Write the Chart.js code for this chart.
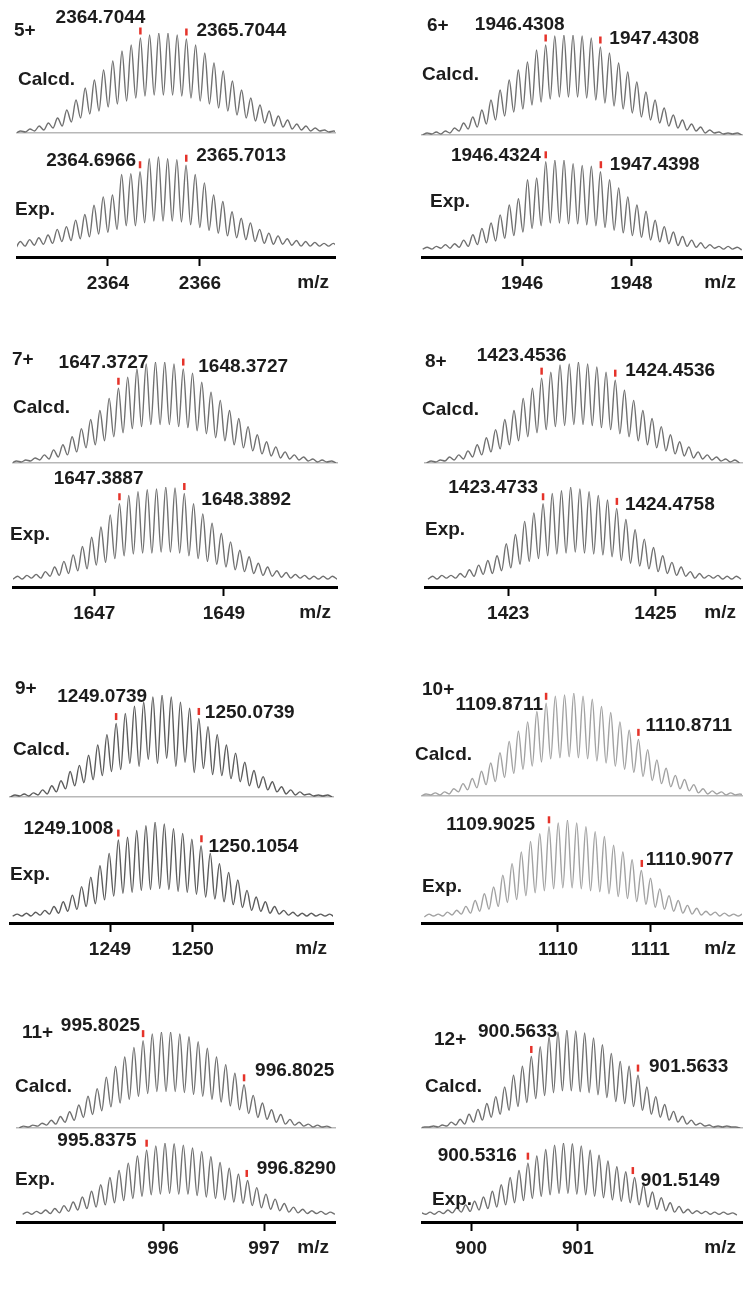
<!DOCTYPE html>
<html>
<head>
<meta charset="utf-8">
<script src="https://cdn.jsdelivr.net/npm/chart.js@4.4.1/dist/chart.umd.min.js"></script>
<style>
  body { margin: 0; background: #fff; width: 743px; height: 1289px; position: relative; overflow: hidden; }
  canvas { position: absolute; }
</style>
</head>
<body>
<script>
// ---------------- data (peak tops and valleys, 0-100 of the tallest peak) ----------------
const chargeLabels = ['5+', '6+', '7+', '8+', '9+', '10+', '11+', '12+'];

const ticks5 = [2364, 2366];
const calc5 = [2,4,7,10,15,23,33,45,53,63,72,82,88,95,98,100,100,98,94,88,80,70,62,52,43,35,28,22,17,13,9,7,5,3,2];
const calc5V = [0,1,2,3,5,7,11,15,19,22,26,29,32,35,37,38,38,38,37,35,32,29,25,22,18,15,12,10,7,6,4,3,2,2,1,0];
const exp5 = [7,9,11,14,20,23,30,36,46,55,57,79,80,82,96,98,96,95,89,79,70,57,50,39,32,27,20,16,13,10,8,7,6,5,5];
const exp5V = [0,2,3,4,5,7,8,10,12,15,17,20,24,24,27,29,29,29,28,25,22,19,16,13,11,9,7,5,4,4,3,2,2,2,2,1];
const calc5Labels = ['2364.7044', '2365.7044'];
const exp5Labels = ['2364.6966', '2365.7013'];

const ticks6 = [1946, 1948];
const calc6 = [2,3,4,7,12,18,25,35,45,55,65,73,85,90,99,100,100,99,97,88,82,72,63,53,43,35,27,20,15,11,8,5,3,2,2];
const calc6V = [0,1,1,2,4,6,8,11,15,19,23,26,30,33,36,38,38,38,37,35,32,29,26,22,18,15,12,9,7,5,4,2,2,1,1,0];
const exp6 = [3,4,6,7,11,17,24,30,39,50,57,78,80,98,100,100,96,94,93,87,78,69,59,50,43,33,26,20,15,11,8,6,4,4,3];
const exp6V = [1,1,2,2,3,4,6,8,10,13,16,20,24,27,30,30,29,29,28,27,25,22,19,16,14,11,9,7,5,4,3,2,2,1,1,0];
const calc6Labels = ['1946.4308', '1947.4308'];
const exp6Labels = ['1946.4324', '1947.4398'];

const ticks7 = [1647, 1649];
const calc7 = [2,3,5,8,13,18,26,34,43,52,64,74,85,93,98,100,100,98,93,89,80,70,62,52,44,36,28,21,16,11,8,6,4,3,2];
const calc7V = [0,1,2,3,4,6,8,11,15,18,22,26,30,34,36,38,38,38,36,35,32,29,25,22,18,15,12,9,7,5,4,3,2,1,1,0];
const exp7 = [4,5,6,9,14,20,27,36,46,57,70,82,91,95,97,98,100,99,93,82,71,61,50,41,32,25,18,14,10,8,6,5,4,4,4];
const exp7V = [1,1,2,2,4,5,7,10,12,16,19,23,26,28,29,29,30,30,29,26,23,20,17,14,11,9,7,5,4,3,2,2,1,1,1,1];
const calc7Labels = ['1647.3727', '1648.3727'];
const exp7Labels = ['1647.3887', '1648.3892'];

const ticks8 = [1423, 1425];
const calc8 = [2,3,6,8,12,18,25,33,43,52,64,74,84,90,97,98,100,98,95,90,82,72,62,52,44,36,28,21,16,11,8,6,4,3];
const calc8V = [0,1,2,3,4,6,8,11,14,18,22,26,30,33,36,37,38,38,37,35,33,29,26,22,18,15,12,9,7,5,4,3,2,1,0];
const exp8 = [4,5,5,7,11,16,21,26,39,49,63,72,82,93,96,100,98,95,91,86,77,65,54,44,35,26,19,14,9,7,5,5,4,4];
const exp8V = [1,1,2,2,3,4,6,7,10,13,17,20,23,26,28,29,30,29,28,27,25,21,18,15,12,9,7,5,4,2,2,2,1,1,1];
const calc8Labels = ['1423.4536', '1424.4536'];
const exp8Labels = ['1423.4733', '1424.4758'];

const ticks9 = [1249, 1250];
const calc9 = [2,3,4,7,11,16,25,31,41,51,61,72,82,89,93,98,100,98,93,87,77,69,61,51,43,34,26,20,15,10,7,5,3,2,2];
const calc9V = [0,1,1,2,3,5,8,11,14,17,21,25,27,33,30,37,33,38,30,34,24,28,22,21,18,15,11,9,7,5,3,2,2,1,1,0];
const exp9 = [3,4,5,7,11,16,23,32,42,54,67,81,84,91,96,100,98,93,88,82,75,67,56,47,39,28,21,16,11,7,5,4,4,3,3];
const exp9V = [1,1,1,2,3,4,6,8,11,14,18,22,25,26,28,29,30,29,27,26,24,21,19,16,13,10,7,6,4,3,2,1,1,1,1,0];
const calc9Labels = ['1249.0739', '1250.0739'];
const exp9Labels = ['1249.1008', '1250.1054'];

const ticks10 = [1110, 1111];
const calc10 = [2,3,4,7,12,17,24,32,42,53,63,72,82,90,97,98,100,97,94,87,81,72,64,55,45,35,27,20,16,11,7,5,4,3,2];
const calc10V = [0,1,1,2,4,6,8,11,14,18,22,26,29,33,36,37,38,37,36,34,32,29,26,23,19,15,12,9,7,5,3,2,2,1,1,0];
const exp10 = [3,3,5,7,11,17,24,31,43,55,67,78,86,93,97,100,97,93,88,83,74,67,59,48,40,29,22,17,12,9,6,5,4,3,3];
const exp10V = [0,1,1,2,3,4,6,8,11,15,18,22,25,27,29,30,30,29,27,26,24,21,19,16,13,10,8,6,4,3,2,2,1,1,1,0];
const calc10Labels = ['1109.8711', '1110.8711'];
const exp10Labels = ['1109.9025', '1110.9077'];

const ticks11 = [996, 997];
const calc11 = [2,3,5,8,12,17,24,33,41,53,64,74,84,91,98,100,100,98,95,90,83,74,66,57,45,34,26,19,14,9,6,4,3,2];
const calc11V = [0,1,2,3,4,6,8,11,14,18,22,26,30,33,36,38,38,38,37,35,33,30,27,23,19,15,11,9,6,4,3,2,1,1,0];
const exp11 = [4,5,7,9,13,18,25,33,42,52,62,72,82,90,96,100,99,97,93,88,81,73,65,57,48,38,29,22,16,11,8,6,5,4];
const exp11V = [1,1,2,2,3,5,7,9,11,14,17,20,23,26,28,29,30,29,29,27,25,23,21,18,16,13,10,8,6,4,3,2,2,1,1];
const calc11Labels = ['995.8025', '996.8025'];
const exp11Labels = ['995.8375', '996.8290'];

const ticks12 = [900, 901];
const calc12 = [1,2,3,6,9,14,19,25,32,42,54,63,73,83,93,98,100,99,97,92,85,76,68,63,54,42,32,24,17,12,8,5,3,2,2,1];
const calc12V = [0,1,1,2,3,4,6,8,11,14,18,22,26,30,33,36,38,38,37,36,34,31,27,25,22,18,14,11,8,6,4,3,2,1,1,1,0];
const exp12 = [3,4,5,7,10,14,19,25,33,42,52,62,72,82,91,97,100,99,96,90,83,75,67,60,52,42,32,24,17,12,8,6,5,4,4,3];
const exp12V = [1,1,1,2,3,4,5,7,9,11,14,17,20,23,26,28,30,30,29,28,26,24,21,19,17,14,11,8,6,4,3,2,2,1,1,1,0];
const calc12Labels = ['900.5633', '901.5633'];
const exp12Labels = ['900.5316', '901.5149'];

// ---------------- layout ----------------
const FONT = 'bold 19px "Liberation Sans", Arial, sans-serif';
const INK = '#1c1c1c';
const RED = '#e5332a';

const panels = [
  { col: 0, colW: 372, axisL: 17, axisR: 335, xMin: 2362.022, xMax: 2368.935, ticks: ticks5,
    topC: 33, baseC: 133, topE: 155, zeroE: 248, axisY: 257, color: '#707070',
    calc: { peaks: calc5, valleys: calc5V, labels: calc5Labels, k0: 13, place: [['right', 5, -13], ['left', 10, -1]] },
    exp: { peaks: exp5, valleys: exp5V, labels: exp5Labels, k0: 13, place: [['right', -4, -4], ['left', 10, -2]] },
    txt: [[14, 31], [18, 80], [15, 210]] },
  { col: 372, colW: 371, axisL: 422, axisR: 742, xMin: 1944.17, xMax: 1950.02, ticks: ticks6,
    topC: 35, baseC: 135, topE: 160, zeroE: 250, axisY: 257, color: '#707070',
    calc: { peaks: calc6, valleys: calc6V, labels: calc6Labels, k0: 13, place: [['right', 19, -13], ['left', 9, -1]] },
    exp: { peaks: exp6, valleys: exp6V, labels: exp6Labels, k0: 13, place: [['right', -5, 1], ['left', 9, 0]] },
    txt: [[427, 26], [422, 75], [430, 202]] },
  { col: 0, colW: 372, axisL: 13, axisR: 337, xMin: 1645.746, xMax: 1650.745, ticks: ticks7,
    topC: 362, baseC: 463, topE: 487, zeroE: 580, axisY: 587, color: '#707070',
    calc: { peaks: calc7, valleys: calc7V, labels: calc7Labels, k0: 11, place: [['right', 30, -18], ['left', 15, 5]] },
    exp: { peaks: exp7, valleys: exp7V, labels: exp7Labels, k0: 11, place: [['right', 24, -18], ['left', 17, 13]] },
    txt: [[12, 360], [13, 408], [10, 535]] },
  { col: 372, colW: 371, axisL: 425, axisR: 742, xMin: 1421.87, xMax: 1426.175, ticks: ticks8,
    topC: 362, baseC: 463, topE: 487, zeroE: 580, axisY: 587, color: '#707070',
    calc: { peaks: calc8, valleys: calc8V, labels: calc8Labels, k0: 12, place: [['right', 25, -15], ['left', 10, -2]] },
    exp: { peaks: exp8, valleys: exp8V, labels: exp8Labels, k0: 12, place: [['right', -5, -9], ['left', 8, 3]] },
    txt: [[425, 362], [422, 410], [425, 530]] },
  { col: 0, colW: 372, axisL: 10, axisR: 333, xMin: 1247.791, xMax: 1251.696, ticks: ticks9,
    topC: 695, baseC: 797, topE: 822, zeroE: 917, axisY: 923, color: '#5c5c5c',
    calc: { peaks: calc9, valleys: calc9V, labels: calc9Labels, k0: 11, place: [['right', 31, -20], ['left', 6, 1]] },
    exp: { peaks: exp9, valleys: exp9V, labels: exp9Labels, k0: 11, place: [['right', -5, -4], ['left', 7, 8]] },
    txt: [[15, 689], [13, 750], [10, 875]] },
  { col: 372, colW: 371, axisL: 422, axisR: 742, xMin: 1108.527, xMax: 1111.993, ticks: ticks10,
    topC: 693, baseC: 796, topE: 820, zeroE: 917, axisY: 923, color: '#a2a2a2',
    calc: { peaks: calc10, valleys: calc10V, labels: calc10Labels, k0: 13, place: [['right', -3, 8], ['left', 7, -7]] },
    exp: { peaks: exp10, valleys: exp10V, labels: exp10Labels, k0: 13, place: [['right', -14, 5], ['left', 4, -4]] },
    txt: [[422, 690], [415, 755], [422, 887]] },
  { col: 0, colW: 372, axisL: 17, axisR: 335, xMin: 994.554, xMax: 997.703, ticks: ticks11,
    topC: 1032, baseC: 1128, topE: 1143, zeroE: 1215, axisY: 1222, color: '#707070',
    calc: { peaks: calc11, valleys: calc11V, labels: calc11Labels, k0: 13, place: [['right', -3, -8], ['left', 11, -7]] },
    exp: { peaks: exp11, valleys: exp11V, labels: exp11Labels, k0: 13, place: [['right', -10, -2], ['left', 10, -5]] },
    txt: [[22, 1033], [15, 1087], [15, 1180]] },
  { col: 372, colW: 371, axisL: 422, axisR: 742, xMin: 899.539, xMax: 902.538, ticks: ticks12,
    topC: 1030, baseC: 1128, topE: 1143, zeroE: 1215, axisY: 1222, color: '#707070',
    calc: { peaks: calc12, valleys: calc12V, labels: calc12Labels, k0: 12, place: [['right', 26, -18], ['left', 11, -1]] },
    exp: { peaks: exp12, valleys: exp12V, labels: exp12Labels, k0: 12, place: [['right', -11, 0], ['left', 8, 10]] },
    txt: [[434, 1040], [425, 1087], [432, 1200]] }
];

// peaks sit one isotope step (1/z) apart, valleys between them
function buildTrace(t, z) {
  const anchor = parseFloat(t.labels[0]);
  const step = 1 / z;
  const pts = [{ x: anchor + (-t.k0 - 0.5) * step, y: t.valleys[0] }];
  for (let i = 0; i < t.peaks.length; i++) {
    const x = anchor + (i - t.k0) * step;
    pts.push({ x: x, y: t.peaks[i] });
    pts.push({ x: x + step / 2, y: t.valleys[i + 1] });
  }
  return pts;
}

function annot(p, t, z, isExp, canvasTop, idx) {
  return {
    id: 'annot',
    afterDraw(chart) {
      const ctx = chart.ctx, xs = chart.scales.x, ys = chart.scales.y;
      const anchor = parseFloat(t.labels[0]);
      ctx.save();
      ctx.font = FONT;
      ctx.textBaseline = 'middle';
      t.labels.forEach((lab, i) => {
        const m = parseFloat(lab);
        const k = t.k0 + Math.round((m - anchor) * z);
        const px = xs.getPixelForValue(m);
        const py = ys.getPixelForValue(t.peaks[k]) - 7;
        ctx.fillStyle = RED;
        ctx.fillRect(px - 1.25, py - 3.5, 2.5, 7);
        const pl = t.place[i];
        ctx.fillStyle = INK;
        ctx.textAlign = pl[0];
        ctx.fillText(lab, px + pl[1], py + pl[2]);
      });
      ctx.fillStyle = INK;
      ctx.textAlign = 'left';
      if (!isExp) {
        ctx.fillText(chargeLabels[idx], p.txt[0][0] - p.col, p.txt[0][1] - canvasTop);
        ctx.fillText('Calcd.', p.txt[1][0] - p.col, p.txt[1][1] - canvasTop);
      } else {
        ctx.fillText('Exp.', p.txt[2][0] - p.col, p.txt[2][1] - canvasTop);
        ctx.textAlign = 'right';
        ctx.fillText('m/z', chart.chartArea.right - 6, chart.chartArea.bottom + 26);
      }
      ctx.restore();
    }
  };
}

function drawTrace(p, idx, isExp) {
  const t = isExp ? p.exp : p.calc;
  const z = parseInt(chargeLabels[idx]);
  const top = isExp ? p.baseC - 8 : p.topC - 45;
  const bottom = isExp ? p.axisY + 45 : p.baseC + 4;
  const w = p.colW, h = bottom - top;
  const cv = document.createElement('canvas');
  cv.width = w; cv.height = h;
  cv.style.left = p.col + 'px';
  cv.style.top = top + 'px';
  cv.style.width = w + 'px';
  cv.style.height = h + 'px';
  document.body.appendChild(cv);

  const yMin = isExp ? -(p.axisY - p.zeroE) * 100 / (p.zeroE - p.topE) : 0;
  const xAxis = isExp ? {
    type: 'linear', min: p.xMin, max: p.xMax,
    afterBuildTicks: s => { s.ticks = p.ticks.map(v => ({ value: v })); },
    afterFit: s => { s.height = 45; },
    border: { display: true, color: '#000', width: 3 },
    grid: { drawOnChartArea: false, drawTicks: true, tickLength: 9, tickWidth: 2, tickColor: '#000' },
    ticks: { color: INK, padding: 6, maxRotation: 0, autoSkip: false,
      font: { family: '"Liberation Sans", Arial, sans-serif', size: 19, weight: 'bold' },
      callback: v => String(v) }
  } : {
    type: 'linear', min: p.xMin, max: p.xMax,
    afterFit: s => { s.height = 0; },
    border: { display: true, color: '#b8b8b8', width: 1.5 },
    grid: { drawOnChartArea: false, drawTicks: false },
    ticks: { display: false }
  };

  new Chart(cv, {
    type: 'line',
    data: {
      datasets: [{
        data: buildTrace(t, z),
        borderColor: p.color,
        borderWidth: 1.4,
        pointRadius: 0,
        cubicInterpolationMode: 'monotone',
        fill: false
      }]
    },
    options: {
      responsive: false,
      animation: false,
      events: [],
      layout: {
        padding: {
          left: p.axisL - p.col,
          right: p.col + w - p.axisR,
          top: (isExp ? p.topE : p.topC) - top,
          bottom: isExp ? 0 : bottom - p.baseC
        }
      },
      plugins: { legend: { display: false }, tooltip: { enabled: false } },
      scales: {
        x: xAxis,
        y: { display: false, min: yMin, max: 100 }
      }
    },
    plugins: [annot(p, t, z, isExp, top, idx)]
  });
}

panels.forEach((p, i) => {
  drawTrace(p, i, false);
  drawTrace(p, i, true);
});
</script>
</body>
</html>
